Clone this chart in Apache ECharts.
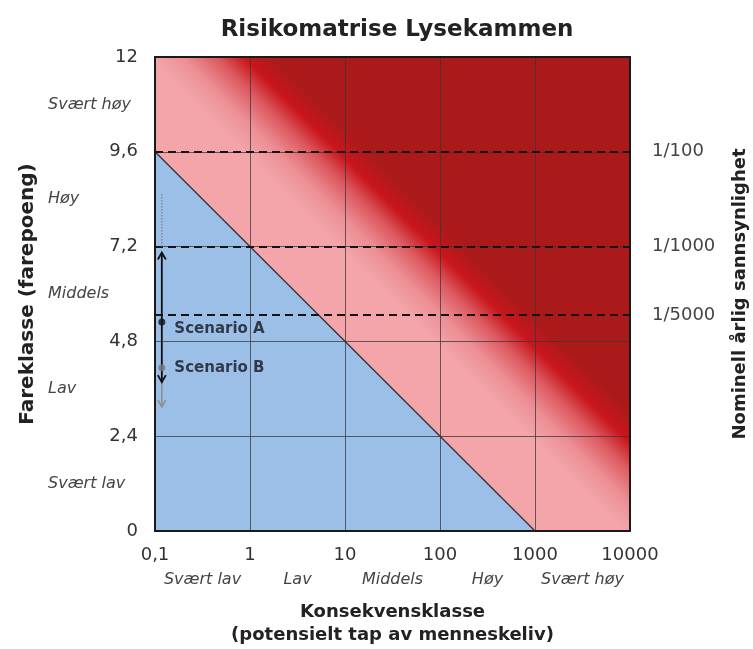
<!DOCTYPE html>
<html>
<head>
<meta charset="utf-8">
<script src="https://cdn.jsdelivr.net/npm/echarts@6/dist/echarts.min.js"></script>
<style>
html,body{margin:0;padding:0;background:#fff;}
#chart{width:753px;height:649px;}
</style>
</head>
<body>
<div id="chart"></div>
<script>
// ---------- data ----------
const titleText = 'Risikomatrise Lysekammen';
const xTickLabels = ['0,1', '1', '10', '100', '1000', '10000'];
const consequenceClasses = ['Svært lav', 'Lav', 'Middels', 'Høy', 'Svært høy'];
const hazardClasses = ['Svært lav', 'Lav', 'Middels', 'Høy', 'Svært høy'];
const xName = 'Konsekvensklasse\n(potensielt tap av menneskeliv)';
const yName = 'Fareklasse (farepoeng)';
const rightName = 'Nominell årlig sannsynlighet';
const acceptLine = [[0.1, 9.6], [1000, 0]];
const lowRiskRegion = [[0.1, 0], [0.1, 9.6], [1000, 0]];
const highRiskRegion = [[0.1, 9.6], [0.1, 12], [10000, 12], [10000, 0], [1000, 0]];
const bandTopX = [0.09, 0.86, 1.85];   // x at top edge: pink ends, bright red, dark red
const probLevels = [9.6, 7.2, 5.47];
const probLabels = ['1/100', '1/1000', '1/5000'];
const scenarioX = 0.118;
const scenarioA = 5.29;
const scenarioARange = [3.77, 7.05];
const scenarioAExtension = [7.2, 8.56];
const scenarioB = 4.13;
const scenarioBLow = 3.14;
const scenarioNames = ['Scenario A', 'Scenario B'];

// ---------- chart ----------
const FONT = 'DejaVu Sans';
const chart = echarts.init(document.getElementById('chart'), null, {renderer: 'canvas'});

function arrowRender(color, width) {
  return function (params, api) {
    const p0 = api.coord([api.value(0), api.value(1)]);
    const p1 = api.coord([api.value(0), api.value(2)]);
    const dir = Math.sign(p1[1] - p0[1]);
    const h = 7, w = 4;
    return {
      type: 'group',
      children: [
        {type: 'line', shape: {x1: p0[0], y1: p0[1], x2: p1[0], y2: p1[1]},
         style: {stroke: color, lineWidth: width}},
        {type: 'polyline', shape: {points: [[p1[0] - w, p1[1] - dir * h], [p1[0], p1[1]], [p1[0] + w, p1[1] - dir * h]]},
         style: {stroke: color, fill: null, lineWidth: width}}
      ]
    };
  };
}

const option = {
  animation: false,
  backgroundColor: '#fff',
  title: {
    text: titleText, left: 392, top: 14, textAlign: 'center',
    textStyle: {fontFamily: FONT, fontWeight: 'bold', fontSize: 23, color: '#222'}
  },
  grid: {left: 155, top: 57, right: 123, bottom: 118, outerBoundsMode: 'none', containLabel: false},
  xAxis: [
    {
      type: 'log', logBase: 10, min: 0.1, max: 10000, position: 'bottom', z: 3,
      axisLine: {show: true, lineStyle: {color: '#1a1a1a', width: 2}},
      axisTick: {show: false},
      axisLabel: {
        margin: 15, fontFamily: FONT, fontSize: 18, color: '#333',
        formatter: v => xTickLabels[Math.round(Math.log10(v)) + 1]
      },
      splitLine: {show: true, lineStyle: {color: 'rgba(55,55,55,0.75)', width: 1}}
    },
    {
      type: 'category', data: consequenceClasses, position: 'bottom',
      axisLine: {show: false}, axisTick: {show: false},
      axisLabel: {interval: 0, margin: 41, fontFamily: FONT, fontStyle: 'italic', fontSize: 16, color: '#444'},
      splitLine: {show: false},
      name: xName, nameLocation: 'middle', nameGap: 70,
      nameTextStyle: {fontFamily: FONT, fontWeight: 'bold', fontSize: 18, color: '#222', lineHeight: 23}
    },
    {
      type: 'log', logBase: 10, min: 0.1, max: 10000, position: 'top', z: 3,
      axisLine: {show: true, lineStyle: {color: '#1a1a1a', width: 2}},
      axisTick: {show: false}, axisLabel: {show: false}, splitLine: {show: false}
    }
  ],
  yAxis: [
    {
      type: 'value', min: 0, max: 12, interval: 2.4, position: 'left', z: 3,
      axisLine: {show: true, lineStyle: {color: '#1a1a1a', width: 2}},
      axisTick: {show: false},
      axisLabel: {
        margin: 17, fontFamily: FONT, fontSize: 18, color: '#333',
        formatter: v => String(Math.round(v * 10) / 10).replace('.', ',')
      },
      splitLine: {show: true, lineStyle: {color: 'rgba(55,55,55,0.75)', width: 1}},
      name: yName, nameLocation: 'middle', nameGap: 117, nameRotate: 90,
      nameTextStyle: {fontFamily: FONT, fontWeight: 'bold', fontSize: 20, color: '#222'}
    },
    {
      type: 'category', data: hazardClasses, position: 'left',
      axisLine: {show: false}, axisTick: {show: false},
      axisLabel: {interval: 0, margin: 107, align: 'left', fontFamily: FONT, fontStyle: 'italic', fontSize: 16, color: '#444'},
      splitLine: {show: false}
    },
    {
      type: 'value', min: 0, max: 12, position: 'right', z: 3,
      axisLine: {show: true, lineStyle: {color: '#1a1a1a', width: 2}},
      axisTick: {show: false}, axisLabel: {show: false}, splitLine: {show: false},
      name: rightName, nameLocation: 'middle', nameGap: 101, nameRotate: 90,
      nameTextStyle: {fontFamily: FONT, fontWeight: 'bold', fontSize: 18, color: '#222'}
    }
  ],
  series: [
    {
      name: 'low', type: 'custom', xAxisIndex: 0, yAxisIndex: 0, z: 0, silent: true,
      data: [[0.1, 0]],
      renderItem: function (params, api) {
        return {type: 'polygon', shape: {points: lowRiskRegion.map(p => api.coord(p))},
                style: {fill: '#9bbfe6'}};
      }
    },
    {
      name: 'high', type: 'custom', xAxisIndex: 0, yAxisIndex: 0, z: 0, silent: true,
      data: [[0.1, 12]],
      renderItem: function (params, api) {
        const pts = highRiskRegion.map(p => api.coord(p));
        const a = api.coord([bandTopX[0], 12]);
        const m = api.coord([bandTopX[1], 12]);
        const b = api.coord([bandTopX[2], 12]);
        const l0 = api.coord(acceptLine[0]), l1 = api.coord(acceptLine[1]);
        let dx = l1[0] - l0[0], dy = l1[1] - l0[1];
        const len = Math.hypot(dx, dy); dx /= len; dy /= len;
        const nx = dy, ny = -dx;
        const t = (b[0] - a[0]) * nx + (b[1] - a[1]) * ny;
        const tm = (m[0] - a[0]) * nx + (m[1] - a[1]) * ny;
        const midOff = tm / t;
        const grad = new echarts.graphic.LinearGradient(a[0], a[1], a[0] + t * nx, a[1] + t * ny, [
          {offset: 0, color: '#f3a5aa'},
          {offset: midOff * 0.35, color: '#ec8e94'},
          {offset: midOff * 0.7, color: '#dc5a60'},
          {offset: midOff, color: '#c8161c'},
          {offset: 1, color: '#aa1a1a'}
        ], true);
        return {type: 'polygon', shape: {points: pts}, style: {fill: grad}};
      }
    },
    {
      name: 'accept', type: 'line', xAxisIndex: 0, yAxisIndex: 0, z: 4, silent: true,
      data: acceptLine, showSymbol: false, symbol: 'none',
      lineStyle: {color: '#333', width: 1.3},
      markLine: {
        silent: true, symbol: ['none', 'none'],
        lineStyle: {color: '#151515', width: 2, type: [8, 5]},
        label: {
          position: 'end', distance: 22, fontFamily: FONT, fontSize: 18, color: '#444',
          formatter: p => probLabels[p.dataIndex]
        },
        data: probLevels.map(v => ({yAxis: v}))
      }
    },
    {
      name: 'extension', type: 'line', xAxisIndex: 0, yAxisIndex: 0, z: 5, silent: true,
      data: scenarioAExtension.map(v => [scenarioX, v]), symbol: 'none',
      lineStyle: {color: '#8a8a8a', width: 1.5, type: [1.5, 1.5]}
    },
    {
      name: 'scenarioB-range', type: 'custom', xAxisIndex: 0, yAxisIndex: 0, z: 5, silent: true,
      data: [[scenarioX, scenarioB, scenarioBLow]],
      renderItem: arrowRender('#8f8f8f', 1.6)
    },
    {
      name: 'scenarioA-range', type: 'custom', xAxisIndex: 0, yAxisIndex: 0, z: 6, silent: true,
      data: [[scenarioX, scenarioA, scenarioARange[1]], [scenarioX, scenarioA, scenarioARange[0]]],
      renderItem: arrowRender('#111', 1.8)
    },
    {
      name: 'scenarios', type: 'scatter', xAxisIndex: 0, yAxisIndex: 0, z: 7, silent: true,
      symbolSize: 7,
      data: [
        {value: [scenarioX, scenarioA], itemStyle: {color: '#111'}, label: {offset: [0, 7]}},
        {value: [scenarioX, scenarioB], itemStyle: {color: '#777'}}
      ],
      label: {
        show: true, position: 'right', distance: 9,
        fontFamily: FONT, fontWeight: 'bold', fontSize: 15, color: '#161622',
        formatter: p => scenarioNames[p.dataIndex]
      }
    }
  ]
};
chart.setOption(option);
</script>
</body>
</html>
